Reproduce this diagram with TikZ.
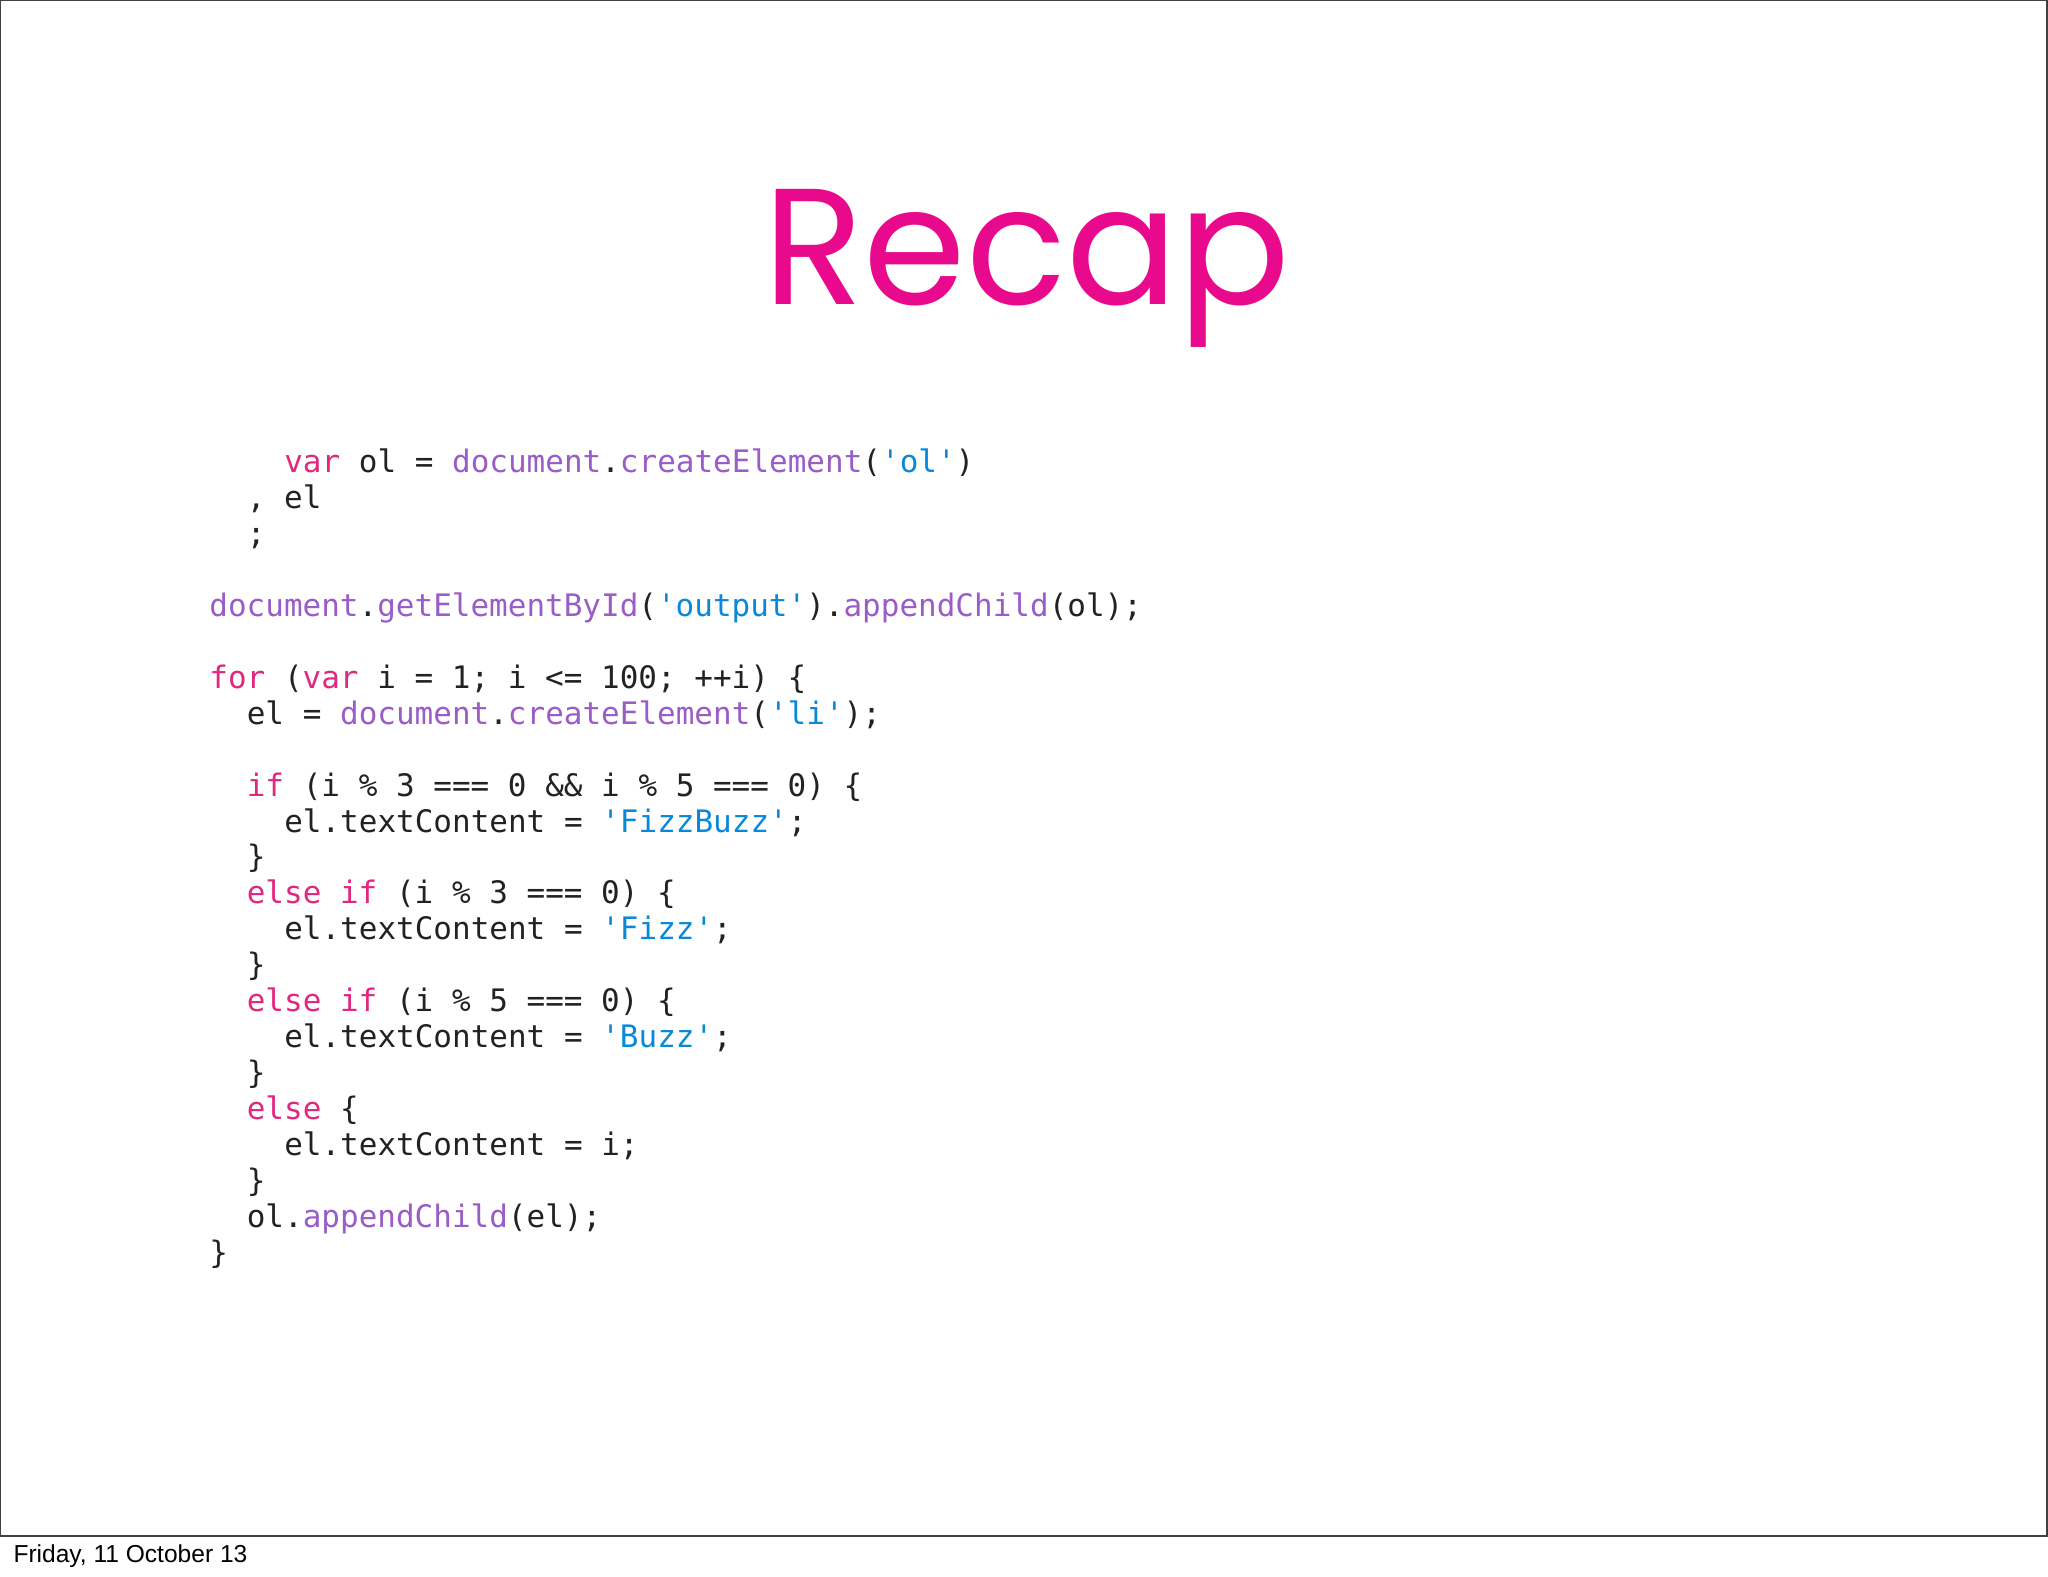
\documentclass[tikz,border=0pt]{standalone}
\usepackage{fontspec}
\setmainfont{Poppins}
\setmonofont{DejaVu Sans Mono}
\newfontfamily\footfont{Liberation Sans}
\definecolor{kwc}{HTML}{E0287F}
\definecolor{fnc}{HTML}{9A5CC6}
\definecolor{stc}{HTML}{0A88D8}
\definecolor{txc}{HTML}{222222}
\definecolor{ttl}{HTML}{E8098C}
\newcommand{\kw}[1]{\textcolor{kwc}{#1}}
\newcommand{\fn}[1]{\textcolor{fnc}{#1}}
\newcommand{\st}[1]{\textcolor{stc}{#1}}
\tikzset{codeline/.style={anchor=base west,inner sep=0,text=txc,font=\ttfamily\fontsize{13.5pt}{15pt}\selectfont}}
\begin{document}
\begin{tikzpicture}[x=0.02cm,y=-0.02cm]
\useasboundingbox (0,0) rectangle (1568,1207);
\draw[line width=0.8pt,black!75] (0,0) rectangle (1567,1176);
\node[text=ttl,font=\fontsize{72pt}{80pt}\selectfont,anchor=base] (title) at (786,233) {Recap};
\node[anchor=base west,inner sep=0,font=\footfont\fontsize{10.7pt}{13pt}\selectfont] (foot) at (10,1196) {Friday, 11 October 13};
\def\cw{14.32}
\foreach \r/\ind/\txt [count=\n] in {
 0/4/{\kw{var} ol = \fn{document}.\fn{createElement}(\st{'ol'})},
 1/2/{, el},
 2/2/{;},
 4/0/{\fn{document}.\fn{getElementById}(\st{'output'}).\fn{appendChild}(ol);},
 6/0/{\kw{for} (\kw{var} i = 1; i <= 100; ++i) \{},
 7/2/{el = \fn{document}.\fn{createElement}(\st{'li'});},
 9/2/{\kw{if} (i \% 3 === 0 \&\& i \% 5 === 0) \{},
 10/4/{el.textContent = \st{'FizzBuzz'};},
 11/2/{\}},
 12/2/{\kw{else if} (i \% 3 === 0) \{},
 13/4/{el.textContent = \st{'Fizz'};},
 14/2/{\}},
 15/2/{\kw{else if} (i \% 5 === 0) \{},
 16/4/{el.textContent = \st{'Buzz'};},
 17/2/{\}},
 18/2/{\kw{else} \{},
 19/4/{el.textContent = i;},
 20/2/{\}},
 21/2/{ol.\fn{appendChild}(el);},
 22/0/{\}}
}{
 \node[codeline] (code\n) at ({160+\ind*\cw},{362+\r*27.5}) {\txt};
}
\end{tikzpicture}
\end{document}
